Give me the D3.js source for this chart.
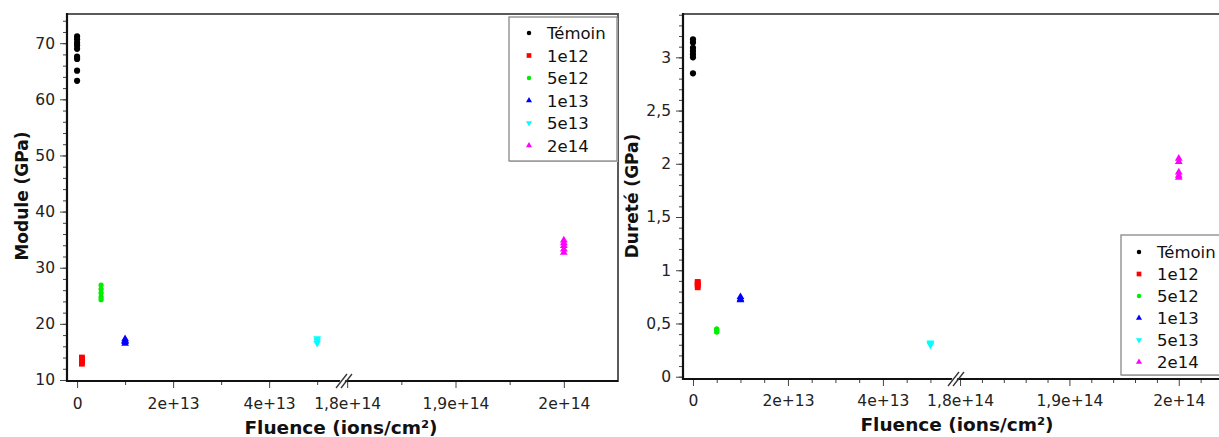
<!DOCTYPE html>
<html><head><meta charset="utf-8">
<script src="https://cdn.jsdelivr.net/npm/d3@7"></script>
<style>
html,body{margin:0;padding:0;background:#fff;}
svg{display:block;font-family:"DejaVu Sans",Verdana,sans-serif;}
</style></head>
<body>
<svg id="chart" width="1219" height="437"></svg>
<script>
// ---------- DATA ----------
const categories = ["Témoin", "1e12", "5e12", "1e13", "5e13", "2e14"];
const fluences = [0, 1e12, 5e12, 1e13, 5e13, 2e14];
const colors = ["#000000", "#ff0000", "#00ee00", "#0000ff", "#00ffff", "#ff00ff"];
const symbols = ["circle", "square", "circle", "triangle", "triangleDown", "triangle"];

const moduleTemoin = [71.2, 70.7, 70.1, 69.6, 69.0, 67.6, 67.2, 65.1, 63.3];
const module1e12 = [12.9, 13.2, 13.5, 13.8, 14.0];
const module5e12 = [24.3, 24.8, 25.5, 26.2, 26.9];
const module1e13 = [16.5, 16.8, 17.0, 17.3];
const module5e13 = [16.6, 17.0, 17.4];
const module2e14 = [32.7, 33.3, 33.9, 34.4, 34.9];

const dureteTemoin = [3.17, 3.14, 3.09, 3.06, 3.03, 3.0, 2.85];
const durete1e12 = [0.84, 0.86, 0.88, 0.89];
const durete5e12 = [0.42, 0.43, 0.44, 0.45];
const durete1e13 = [0.72, 0.73, 0.75];
const durete5e13 = [0.30, 0.31, 0.32];
const durete2e14 = [1.87, 1.89, 1.92, 2.02, 2.05];

const moduleSeries = [moduleTemoin, module1e12, module5e12, module1e13, module5e13, module2e14];
const dureteSeries = [dureteTemoin, durete1e12, durete5e12, durete1e13, durete5e13, durete2e14];

const moduleMajorTicks = [10, 20, 30, 40, 50, 60, 70];
const dureteMajorTicks = [0, 0.5, 1, 1.5, 2, 2.5, 3];
const xTicksLow = [0, 2e13, 4e13];
const xTicksHigh = [1.8e14, 1.9e14, 2e14];

// ---------- DRAW ----------
const svg = d3.select("#chart");
const fr = d3.formatLocale({decimal: ",", thousands: " ", grouping: [3], currency: ["", ""]});

function symbolPath(name, size) {
  const t = {circle: d3.symbolCircle, square: d3.symbolSquare, triangle: d3.symbolTriangle, triangleDown: d3.symbolTriangle}[name];
  return d3.symbol().type(t).size(size)();
}

function drawPanel(cfg) {
  const g = svg.append("g");
  const {left, right, top, bottom, breakPx} = cfg;
  const y = d3.scaleLinear().domain(cfg.yDomain).range([bottom, top]);
  const xA = d3.scaleLinear().domain(cfg.xDomainA).range([left, breakPx]);
  const xB = d3.scaleLinear().domain(cfg.xDomainB).range([breakPx, right]);
  const xPos = v => v <= cfg.xDomainA[1] ? xA(v) : xB(v);

  // frame
  g.append("rect").attr("x", left).attr("y", top).attr("width", right - left).attr("height", bottom - top)
    .attr("fill", "#fff").attr("stroke", "#5a5a5a").attr("stroke-width", 2);

  // y axis minor
  const yMinor = d3.range(cfg.yMinorStart, cfg.yDomain[1], cfg.yMinorStep).filter(v => v >= cfg.yDomain[0]);
  g.append("g").attr("transform", `translate(${left},0)`)
    .call(d3.axisLeft(y).tickValues(yMinor).tickSize(4).tickFormat(""))
    .call(a => a.select(".domain").remove())
    .selectAll("line").attr("stroke", "#444");
  // y axis major
  const ya = g.append("g").attr("transform", `translate(${left},0)`)
    .call(d3.axisLeft(y).tickValues(cfg.yMajor).tickSize(7).tickPadding(5).tickFormat(cfg.yFormat));
  ya.select(".domain").remove();
  ya.selectAll("line").attr("stroke", "#444");
  ya.selectAll("text").attr("font-size", 15.5).attr("fill", "#222").attr("font-family", "DejaVu Sans, Verdana, sans-serif");

  // x axes (two segments)
  [[xA, cfg.xMinorA, xTicksLow], [xB, cfg.xMinorB, xTicksHigh]].forEach(([sc, minor, major]) => {
    g.append("g").attr("transform", `translate(0,${bottom})`)
      .call(d3.axisBottom(sc).tickValues(minor).tickSize(4).tickFormat(""))
      .call(a => a.select(".domain").remove())
      .selectAll("line").attr("stroke", "#444");
    const xa = g.append("g").attr("transform", `translate(0,${bottom})`)
      .call(d3.axisBottom(sc).tickValues(major).tickSize(7).tickPadding(cfg.xPad)
        .tickFormat(v => v === 0 ? "0" : fr.format("~e")(v).replace(/e\+?(\d+)/, "e+$1")));
    xa.select(".domain").remove();
    xa.selectAll("line").attr("stroke", "#444");
    xa.selectAll("text").attr("font-size", 15.5).attr("fill", "#222").attr("font-family", "DejaVu Sans, Verdana, sans-serif");
  });

  // black axis lines
  g.append("line").attr("x1", left).attr("x2", left).attr("y1", top - 1).attr("y2", bottom + 1)
    .attr("stroke", "#111").attr("stroke-width", 2.2);
  g.append("line").attr("x1", left - 1).attr("x2", right).attr("y1", bottom).attr("y2", bottom)
    .attr("stroke", "#111").attr("stroke-width", 2.2);

  // break mark
  const bk = g.append("g").attr("transform", `translate(${breakPx},${bottom})`);
  bk.append("polygon").attr("points", "-8,7 -2,-7 3,-7 -3,7").attr("fill", "#fff");
  bk.append("line").attr("x1", -9).attr("y1", 7).attr("x2", 2).attr("y2", -7).attr("stroke", "#333").attr("stroke-width", 1.3);
  bk.append("line").attr("x1", -4).attr("y1", 7).attr("x2", 7).attr("y2", -7).attr("stroke", "#333").attr("stroke-width", 1.3);

  // points
  cfg.series.forEach((vals, i) => {
    const sz = symbols[i] === "circle" ? (i === 0 ? 30 : 22) : (symbols[i] === "square" ? 34 : 26);
    g.append("g").selectAll("path").data(vals).join("path")
      .attr("d", symbolPath(symbols[i], sz))
      .attr("transform", d => `translate(${xPos(fluences[i])},${y(d)})` + (symbols[i] === "triangleDown" ? " rotate(180)" : ""))
      .attr("fill", colors[i]);
  });

  // axis titles
  g.append("text").attr("x", cfg.xTitleX).attr("y", cfg.xTitleY).attr("text-anchor", "middle")
    .attr("font-size", 18.5).attr("font-weight", "bold").attr("fill", "#111")
    .text("Fluence (ions/cm²)");
  g.append("text").attr("transform", `translate(${cfg.yTitleX},${cfg.yTitleY}) rotate(-90)`)
    .attr("text-anchor", "middle").attr("font-size", 17).attr("font-weight", "bold").attr("fill", "#111")
    .text(cfg.yTitle);

  // legend
  const L = cfg.legend;
  g.append("rect").attr("x", L.x + 1).attr("y", L.y + 1).attr("width", L.w).attr("height", L.h).attr("fill", "#ccc");
  g.append("rect").attr("x", L.x).attr("y", L.y).attr("width", L.w).attr("height", L.h)
    .attr("fill", "#fff").attr("stroke", "#888").attr("stroke-width", 1.3);
  categories.forEach((c, i) => {
    const cy = L.first + i * L.step;
    const sz = symbols[i] === "circle" ? 16 : (symbols[i] === "square" ? 22 : 16);
    g.append("path").attr("d", symbolPath(symbols[i], sz))
      .attr("transform", `translate(${L.mx},${cy})` + (symbols[i] === "triangleDown" ? " rotate(180)" : ""))
      .attr("fill", colors[i]);
    g.append("text").attr("x", L.tx).attr("y", cy + 6).attr("font-size", 16.5).attr("fill", "#111").text(c);
  });
}

drawPanel({
  left: 67, right: 618, top: 14, bottom: 381, breakPx: 345, xPad: 10,
  yDomain: [9.82, 75.2], yMajor: moduleMajorTicks, yMinorStart: 10, yMinorStep: 2,
  yFormat: d3.format("d"),
  xDomainA: [-2.1e12, 5.58e13], xDomainB: [1.798e14, 2.05e14],
  xMinorA: [1e13, 3e13, 5e13], xMinorB: [1.85e14, 1.95e14],
  series: moduleSeries,
  xTitleX: 341, xTitleY: 434, yTitleX: 28, yTitleY: 196, yTitle: "Module (GPa)",
  legend: {x: 509, y: 17, w: 108, h: 144, first: 33, step: 22.5, mx: 529, tx: 547}
});

drawPanel({
  left: 683, right: 1240, top: 14, bottom: 379, breakPx: 957, xPad: 9,
  yDomain: [-0.0216, 3.407], yMajor: dureteMajorTicks, yMinorStart: 0, yMinorStep: 0.1,
  yFormat: v => fr.format("~g")(v),
  xDomainA: [-2.1e12, 5.56e13], xDomainB: [1.7972e14, 2.056e14],
  xMinorA: [5e12, 1e13, 1.5e13, 2.5e13, 3e13, 3.5e13, 4.5e13, 5e13],
  xMinorB: [1.82e14, 1.84e14, 1.86e14, 1.88e14, 1.92e14, 1.94e14, 1.96e14, 1.98e14, 2.02e14, 2.04e14],
  series: dureteSeries,
  xTitleX: 957, xTitleY: 431, yTitleX: 638, yTitleY: 196, yTitle: "Dureté (GPa)",
  legend: {x: 1121, y: 235, w: 120, h: 140, first: 252, step: 22, mx: 1139, tx: 1157}
});
</script>
</body></html>
